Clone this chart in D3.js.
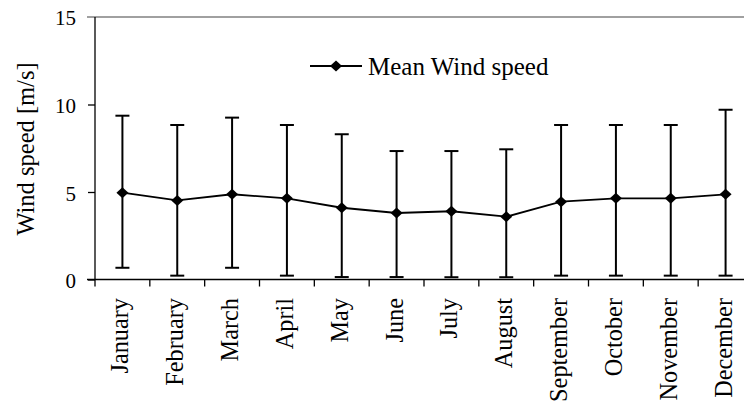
<!DOCTYPE html>
<html>
<head>
<meta charset="utf-8">
<script src="https://cdn.jsdelivr.net/npm/d3@7"></script>
<style>
  html, body { margin: 0; padding: 0; background: #fff; overflow: hidden; }
  svg text { font-family: "Liberation Serif", "DejaVu Serif", "Times New Roman", Times, serif !important; }
</style>
</head>
<body>
<svg id="chart" width="744" height="403"></svg>
<script>
// Monthly mean wind speed with lower / upper spread (m/s)
const months = ["January", "February", "March", "April", "May", "June",
                "July", "August", "September", "October", "November", "December"];
const meanSpeed = [4.96, 4.52, 4.87, 4.64, 4.10, 3.80, 3.90, 3.59, 4.45, 4.64, 4.64, 4.87];
const upperSpeed = [9.36, 8.83, 9.25, 8.83, 8.30, 7.34, 7.34, 7.44, 8.83, 8.83, 8.83, 9.70];
const lowerSpeed = [0.67, 0.22, 0.67, 0.22, 0.14, 0.14, 0.13, 0.13, 0.22, 0.22, 0.22, 0.22];
const yTicks = [0, 5, 10, 15];
const seriesName = "Mean Wind speed";
const yTitle = "Wind speed [m/s]";

const rows = months.map((m, i) => ({ month: m, mean: meanSpeed[i], hi: upperSpeed[i], lo: lowerSpeed[i] }));

const FONT = "Liberation Serif, DejaVu Serif, serif";
const svg = d3.select("#chart").attr("font-family", FONT);
const plotLeft = 95, plotTop = 17, plotBottom = 279.5, plotRight = 753;

const x = d3.scaleBand().domain(months).range([plotLeft, plotRight]).paddingInner(0).paddingOuter(0);
const y = d3.scaleLinear().domain([0, 15]).range([plotBottom, plotTop]);
const cx = d => x(d.month) + x.bandwidth() / 2;

// top border of the plot area at 15
svg.append("line")
  .attr("x1", plotLeft - 8).attr("x2", plotRight)
  .attr("y1", y(15)).attr("y2", y(15))
  .attr("stroke", "#808080").attr("stroke-width", 1.5);

// y axis
const yAxis = svg.append("g")
  .attr("transform", `translate(${plotLeft},0)`)
  .call(d3.axisLeft(y).tickValues(yTicks.filter(t => t < 15)).tickSize(7).tickPadding(12).tickFormat(d3.format("d")))
  .attr("font-family", FONT);
yAxis.select(".domain").attr("stroke", "#000").attr("stroke-width", 1.3).attr("d", `M0,${y(15)}V${plotBottom}`);
yAxis.selectAll(".tick line").attr("stroke", "#000").attr("stroke-width", 1.3);
yAxis.selectAll(".tick text").attr("font-size", 21).attr("fill", "#000").attr("dy", "0.40em");
// label for 15 sits beside the gray border
svg.append("text")
  .attr("x", plotLeft - 19).attr("y", y(15)).attr("dy", "0.40em")
  .attr("text-anchor", "end").attr("font-size", 21).text(yTicks[3]);

// x axis with ticks at category boundaries
const xAxis = svg.append("g").attr("transform", `translate(0,${plotBottom})`);
xAxis.append("line").attr("x1", plotLeft - 8).attr("x2", plotRight).attr("stroke", "#000").attr("stroke-width", 1.3);
xAxis.selectAll("line.tk")
  .data(months)
  .join("line").attr("class", "tk")
  .attr("x1", d => x(d)).attr("x2", d => x(d))
  .attr("y1", 0).attr("y2", 7)
  .attr("stroke", "#000").attr("stroke-width", 1.3);
xAxis.selectAll("text")
  .data(months)
  .join("text")
  .attr("transform", d => `translate(${x(d) + x.bandwidth() / 2 + 6},18.5) rotate(-90)`)
  .attr("text-anchor", "end")
  .attr("font-size", 24.3)
  .text(d => d);

// y title
svg.append("text")
  .attr("transform", `translate(34,149) rotate(-90)`)
  .attr("text-anchor", "middle")
  .attr("font-size", 24.5)
  .text(yTitle);

// error bars
const eb = svg.append("g").attr("stroke", "#000").attr("stroke-width", 2).attr("fill", "none");
eb.selectAll("line.v").data(rows).join("line").attr("class", "v")
  .attr("x1", cx).attr("x2", cx).attr("y1", d => y(d.lo)).attr("y2", d => y(d.hi));
eb.selectAll("line.hi").data(rows).join("line").attr("class", "hi")
  .attr("x1", d => cx(d) - 7).attr("x2", d => cx(d) + 7).attr("y1", d => y(d.hi)).attr("y2", d => y(d.hi));
eb.selectAll("line.lo").data(rows).join("line").attr("class", "lo")
  .attr("x1", d => cx(d) - 7).attr("x2", d => cx(d) + 7).attr("y1", d => y(d.lo)).attr("y2", d => y(d.lo));

// mean line
svg.append("path")
  .datum(rows)
  .attr("fill", "none").attr("stroke", "#000").attr("stroke-width", 1.8)
  .attr("d", d3.line().x(cx).y(d => y(d.mean)));

const diamond = (w, h) => `M0,${-h}L${w},0L0,${h}L${-w},0Z`;
svg.selectAll("path.mk").data(rows).join("path").attr("class", "mk")
  .attr("transform", d => `translate(${cx(d)},${y(d.mean)})`)
  .attr("d", diamond(6, 5.5)).attr("fill", "#000");

// legend
const lg = svg.append("g").attr("transform", "translate(310,66)");
lg.append("line").attr("x1", 0).attr("x2", 52).attr("stroke", "#000").attr("stroke-width", 1.8);
lg.append("path").attr("transform", "translate(26,0)").attr("d", diamond(6, 5.5)).attr("fill", "#000");
lg.append("text").attr("x", 58).attr("y", 8.5).attr("font-size", 25).text(seriesName);
</script>
</body>
</html>
